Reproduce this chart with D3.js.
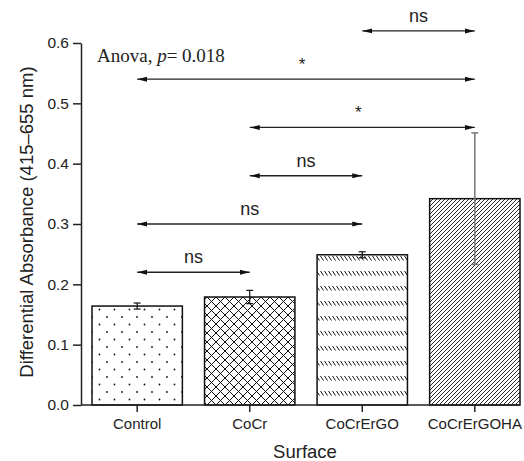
<!DOCTYPE html>
<html>
<head>
<meta charset="utf-8">
<script src="https://cdn.jsdelivr.net/npm/d3@7"></script>
<style>
  body { margin: 0; background: #fff; }
  text { font-family: "Liberation Sans", Arial, sans-serif; fill: #222; }
</style>
</head>
<body>
<div id="my_dataviz"></div>
<script>
// data
const categories = ["Control", "CoCr", "CoCrErGO", "CoCrErGOHA"];
const means = [0.164, 0.179, 0.249, 0.342];
const errors = [0.005, 0.011, 0.005, 0.109];
const yTicks = [0.0, 0.1, 0.2, 0.3, 0.4, 0.5, 0.6];

// pairwise comparisons drawn as double arrows
const compFrom = ["CoCrErGO", "Control", "CoCr", "CoCr", "Control", "Control"];
const compTo = ["CoCrErGOHA", "CoCrErGOHA", "CoCrErGOHA", "CoCrErGO", "CoCrErGO", "CoCr"];
const compLevel = [0.62, 0.54, 0.46, 0.38, 0.30, 0.22];
const compLabel = ["ns", "*", "*", "ns", "ns", "ns"];

const width = 524;
const height = 461;

const svg = d3.select("#my_dataviz")
  .append("svg")
  .attr("width", width)
  .attr("height", height);

const x = d3.scaleBand()
  .domain(categories)
  .range([92, 520])
  .paddingInner(0.197)
  .paddingOuter(0);

const y = d3.scaleLinear()
  .domain([0, 0.6])
  .range([405, 43]);

// fill patterns for each bar
const defs = svg.append("defs");

const dots = defs.append("pattern")
  .attr("id", "pat0").attr("patternUnits", "userSpaceOnUse")
  .attr("width", 15).attr("height", 15);
dots.append("circle").attr("cx", 2).attr("cy", 2).attr("r", 0.9).attr("fill", "#111");
dots.append("circle").attr("cx", 9.5).attr("cy", 9.5).attr("r", 0.9).attr("fill", "#111");

const cross = defs.append("pattern")
  .attr("id", "pat1").attr("patternUnits", "userSpaceOnUse")
  .attr("width", 9).attr("height", 9);
cross.append("path")
  .attr("d", "M0,0L9,9M9,0L0,9M-1,8L1,10M8,-1L10,1M-1,1L1,-1M8,10L10,8")
  .attr("stroke", "#111").attr("stroke-width", 1);

const dashes = defs.append("pattern")
  .attr("id", "pat2").attr("patternUnits", "userSpaceOnUse")
  .attr("width", 4).attr("height", 15);
dashes.append("path")
  .attr("d", "M0.5,1L3.5,5.5")
  .attr("stroke", "#111").attr("stroke-width", 1);

const hatch = defs.append("pattern")
  .attr("id", "pat3").attr("patternUnits", "userSpaceOnUse")
  .attr("width", 4).attr("height", 4);
hatch.append("path")
  .attr("d", "M-1,1L1,-1M0,4L4,0M3,5L5,3")
  .attr("stroke", "#111").attr("stroke-width", 0.9);

// bars
svg.append("g")
  .selectAll("rect")
  .data(categories)
  .join("rect")
  .attr("x", d => x(d))
  .attr("y", (d, i) => y(means[i]))
  .attr("width", x.bandwidth())
  .attr("height", (d, i) => y(0) - y(means[i]))
  .attr("fill", (d, i) => "url(#pat" + i + ")")
  .attr("stroke", "#111")
  .attr("stroke-width", 1.5);

// error bars
const err = svg.append("g")
  .selectAll("g")
  .data(categories)
  .join("g")
  .attr("stroke", (d, i) => i == 3 ? "#777" : "#111")
  .attr("stroke-width", (d, i) => i == 3 ? 1.5 : 1.2);
err.append("line")
  .attr("x1", d => x(d) + x.bandwidth() / 2)
  .attr("x2", d => x(d) + x.bandwidth() / 2)
  .attr("y1", (d, i) => y(means[i] - errors[i]))
  .attr("y2", (d, i) => y(means[i] + errors[i]));
err.append("line")
  .attr("x1", d => x(d) + x.bandwidth() / 2 - 3.5)
  .attr("x2", d => x(d) + x.bandwidth() / 2 + 3.5)
  .attr("y1", (d, i) => y(means[i] + errors[i]))
  .attr("y2", (d, i) => y(means[i] + errors[i]));
err.append("line")
  .attr("x1", d => x(d) + x.bandwidth() / 2 - 3.5)
  .attr("x2", d => x(d) + x.bandwidth() / 2 + 3.5)
  .attr("y1", (d, i) => y(means[i] - errors[i]))
  .attr("y2", (d, i) => y(means[i] - errors[i]));

// axes
const yAxis = svg.append("g")
  .attr("transform", "translate(81,0)")
  .call(d3.axisLeft(y).tickValues(yTicks).tickFormat(d3.format(".1f")).tickSize(8).tickSizeOuter(0).tickPadding(4));

const xAxis = svg.append("g")
  .attr("transform", "translate(0,405)")
  .call(d3.axisBottom(x).tickSize(7).tickSizeOuter(0).tickPadding(6));
xAxis.select(".domain").attr("d", "M81,0H520");

[yAxis, xAxis].forEach(a => {
  a.selectAll("path, line").attr("stroke", "#222").attr("stroke-width", 1.5);
  a.selectAll("text").style("font-size", "15.5px").attr("fill", "#222");
});
xAxis.selectAll("text").style("font-size", "15px");

// axis titles
svg.append("text")
  .attr("transform", "translate(33,222) rotate(-90)")
  .attr("text-anchor", "middle")
  .style("font-size", "18.5px")
  .text("Differential Absorbance (415–655 nm)");

svg.append("text")
  .attr("x", 305)
  .attr("y", 458)
  .attr("text-anchor", "middle")
  .style("font-size", "18.5px")
  .text("Surface");

// arrow heads
defs.append("marker")
  .attr("id", "head").attr("viewBox", "0 0 10 6")
  .attr("refX", 10).attr("refY", 3)
  .attr("markerWidth", 10).attr("markerHeight", 6)
  .attr("markerUnits", "userSpaceOnUse")
  .attr("orient", "auto-start-reverse")
  .append("path").attr("d", "M0,0.5L10,3L0,5.5Z").attr("fill", "#111");

const cx = d => x(d) + x.bandwidth() / 2;

const comps = svg.append("g")
  .selectAll("g")
  .data(compLabel)
  .join("g");
comps.append("line")
  .attr("x1", (d, i) => cx(compFrom[i]))
  .attr("x2", (d, i) => cx(compTo[i]))
  .attr("y1", (d, i) => y(compLevel[i]))
  .attr("y2", (d, i) => y(compLevel[i]))
  .attr("stroke", "#222")
  .attr("stroke-width", 1.3)
  .attr("marker-start", "url(#head)")
  .attr("marker-end", "url(#head)");
comps.append("text")
  .attr("x", (d, i) => (cx(compFrom[i]) + cx(compTo[i])) / 2 - (d == "*" ? 4 : 0))
  .attr("y", (d, i) => y(compLevel[i]) - 9)
  .attr("text-anchor", "middle")
  .style("font-size", d => d == "*" ? "17px" : "18px")
  .text(d => d);

// anova note
const note = svg.append("text")
  .attr("x", 97)
  .attr("y", 62)
  .style("font-family", "'Liberation Serif', 'Times New Roman', serif")
  .style("font-size", "19px");
note.append("tspan").text("Anova, ");
note.append("tspan").style("font-style", "italic").text("p");
note.append("tspan").text("= 0.018");
</script>
</body>
</html>
